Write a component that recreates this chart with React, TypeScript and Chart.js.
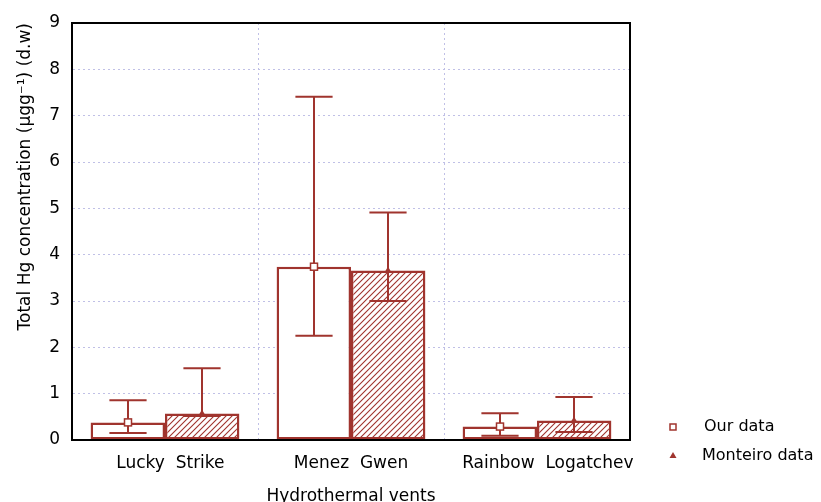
import React, { useEffect, useRef } from 'react';
import { Chart, registerables } from 'chart.js';
Chart.register(...registerables);

// ---- data ----
const categories = ['  Lucky  Strike', 'Menez  Gwen', '    Rainbow  Logatchev'];
const seriesNames = ['Our data', 'Monteiro data'];
const ourMean = [0.38, 3.74, 0.29];
const ourLow = [0.15, 2.25, 0.09];
const ourHigh = [0.86, 7.41, 0.58];
const monMean = [0.57, 3.66, 0.42];
const monLow = [0.52, 3.0, 0.17];
const monHigh = [1.55, 4.91, 0.93];
const yMin = 0;
const yMax = 9;
const xTitle = 'Hydrothermal vents';
const yTitle = 'Total Hg concentration (µgg⁻¹) (d.w)';

const RED = '#a0342e';
const FONT = 'DejaVu Sans';

function makeHatch(): CanvasPattern | string {
  const s = 6;
  const c = document.createElement('canvas');
  c.width = s;
  c.height = s;
  const g = c.getContext('2d');
  if (!g) return '#fff';
  g.fillStyle = '#ffffff';
  g.fillRect(0, 0, s, s);
  g.strokeStyle = RED;
  g.lineWidth = 1.1;
  g.beginPath();
  g.moveTo(-1, s + 1); g.lineTo(s + 1, -1);
  g.moveTo(-1, 1); g.lineTo(1, -1);
  g.moveTo(s - 1, s + 1); g.lineTo(s + 1, s - 1);
  g.stroke();
  const p = g.createPattern(c, 'repeat');
  return p || '#fff';
}

const errorPlugin = {
  id: 'errbars',
  afterDatasetsDraw(chart: any) {
    const ctx = chart.ctx;
    const ys = chart.scales.y;
    const lows = [ourLow, monLow];
    const highs = [ourHigh, monHigh];
    const means = [ourMean, monMean];
    ctx.save();
    ctx.strokeStyle = RED;
    ctx.lineWidth = 2;
    for (let d = 0; d < 2; d++) {
      const meta = chart.getDatasetMeta(d);
      meta.data.forEach((bar: any, i: number) => {
        const x = Math.round(bar.x);
        const w = bar.width * 0.5;
        const yl = ys.getPixelForValue(lows[d][i]);
        const yh = ys.getPixelForValue(highs[d][i]);
        ctx.beginPath();
        ctx.moveTo(x, yl); ctx.lineTo(x, yh);
        ctx.moveTo(x - w / 2, yl); ctx.lineTo(x + w / 2, yl);
        ctx.moveTo(x - w / 2, yh); ctx.lineTo(x + w / 2, yh);
        ctx.stroke();
        const ym = ys.getPixelForValue(means[d][i]);
        ctx.lineWidth = 1.5;
        if (d === 0) {
          ctx.fillStyle = '#fff';
          ctx.fillRect(x - 3.5, ym - 3.5, 7, 7);
          ctx.strokeRect(x - 3.5, ym - 3.5, 7, 7);
        } else {
          ctx.fillStyle = RED;
          ctx.beginPath();
          ctx.moveTo(x, ym - 4);
          ctx.lineTo(x + 3.5, ym + 2);
          ctx.lineTo(x - 3.5, ym + 2);
          ctx.closePath();
          ctx.fill();
        }
        ctx.lineWidth = 2;
      });
    }
    // frame
    const a = chart.chartArea;
    ctx.strokeStyle = '#000';
    ctx.lineWidth = 2;
    ctx.strokeRect(a.left, a.top, a.right - a.left, a.bottom - a.top);
    ctx.restore();
  },
  afterDraw(chart: any) {
    const ctx = chart.ctx;
    const a = chart.chartArea;
    ctx.save();
    ctx.font = `16px "${FONT}"`;
    ctx.textBaseline = 'middle';
    ctx.textAlign = 'left';
    const mx = a.right + 43;
    const tx = a.right + 74;
    const y1 = a.bottom - 13;
    const y2 = a.bottom + 16;
    ctx.strokeStyle = RED;
    ctx.lineWidth = 1.5;
    ctx.strokeRect(mx - 3, y1 - 3, 6, 6);
    ctx.fillStyle = RED;
    ctx.beginPath();
    ctx.moveTo(mx, y2 - 4);
    ctx.lineTo(mx + 3.5, y2 + 2);
    ctx.lineTo(mx - 3.5, y2 + 2);
    ctx.closePath();
    ctx.fill();
    ctx.fillStyle = '#000';
    ctx.fillText(seriesNames[0], tx, y1);
    ctx.fillText(seriesNames[1], tx - 2, y2);
    ctx.restore();
  },
};

export default function App() {
  const ref = useRef<HTMLCanvasElement>(null);
  useEffect(() => {
    if (!ref.current) return;
    const hatch = makeHatch();
    const gridCol = '#c0c0e6';
    const chart = new Chart(ref.current, {
      type: 'bar',
      data: {
        labels: categories,
        datasets: [
          {
            label: seriesNames[0],
            data: ourMean,
            backgroundColor: '#ffffff',
            borderColor: RED,
            borderWidth: 2.5,
            borderSkipped: false,
            categoryPercentage: 0.8,
            barPercentage: 1.0,
          },
          {
            label: seriesNames[1],
            data: monMean,
            backgroundColor: hatch as any,
            borderColor: RED,
            borderWidth: 2.5,
            borderSkipped: false,
            categoryPercentage: 0.8,
            barPercentage: 1.0,
          },
        ],
      },
      options: {
        responsive: false,
        animation: false,
        layout: { padding: { left: 0, right: 191, top: 23, bottom: 0 } },
        plugins: {
          legend: { display: false },
          tooltip: { enabled: false },
        },
        scales: {
          x: {
            grid: { color: gridCol, drawTicks: false, offset: true } as any,
            border: { display: true, color: '#000', width: 2, dash: [2, 3] } as any,
            ticks: { color: '#000', font: { family: FONT, size: 17 }, padding: 13, autoSkip: false, maxRotation: 0, minRotation: 0 },
            title: { display: true, text: xTitle, color: '#000', font: { family: FONT, size: 17 }, padding: { top: 0, bottom: -5 } },
            afterFit: (s: any) => { s.height = 62; },
          },
          y: {
            min: yMin,
            max: yMax,
            ticks: { stepSize: 1, color: '#000', font: { family: FONT, size: 17 }, padding: 12 },
            grid: { color: gridCol, drawTicks: false } as any,
            border: { display: true, color: '#000', width: 2, dash: [2, 3] } as any,
            title: { display: true, text: yTitle, align: 'end', color: '#000', font: { family: FONT, size: 17 }, padding: { top: 15, bottom: 0 } },
            afterFit: (s: any) => { s.width = 72; },
          },
        },
      },
      plugins: [errorPlugin],
    });
    return () => chart.destroy();
  }, []);
  return (
    <div style={{ position: 'absolute', left: 0, top: 0, width: 821, height: 502, background: '#fff' }}>
      <canvas ref={ref} width={821} height={502} />
    </div>
  );
}
